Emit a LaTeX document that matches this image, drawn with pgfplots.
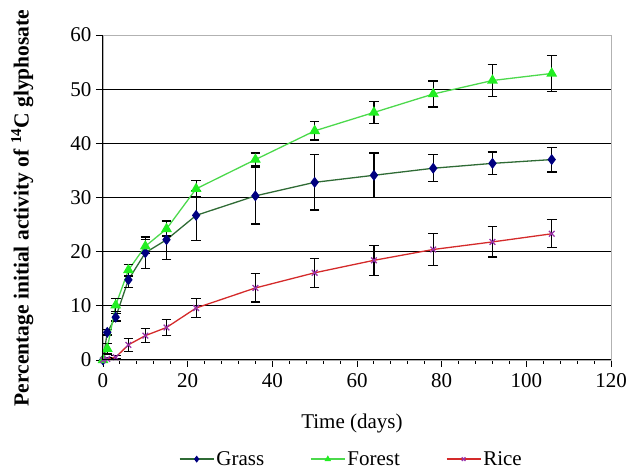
\documentclass[border=0pt]{standalone}
\usepackage{fontspec}
\setmainfont{Liberation Serif}
\usepackage{pgfplots}
\usepackage{pgfplotstable}
\pgfplotsset{compat=1.18}

\definecolor{grassline}{HTML}{2F6B35}
\definecolor{grassmark}{HTML}{000080}
\definecolor{forestline}{HTML}{4CD94C}
\definecolor{forestmark}{HTML}{22EE22}
\definecolor{riceline}{HTML}{D42A2A}
\definecolor{ricemark}{HTML}{9933AA}

% time (days), mean, standard error
\pgfplotstableread{
t    y     e
0    0.0   0.0
1    5.1   0.5
3    7.9   0.7
6    14.8  1.4
10   19.8  2.9
15   22.2  3.6
22   26.7  4.6
36   30.3  5.2
50   32.8  5.1
64   34.1  4.1
78   35.4  2.5
92   36.3  2.1
106  37.0  2.3
}\grass
\pgfplotstableread{
t    y     e
0    0.0   0.0
1    2.1   1.0
3    10.1  1.2
6    16.6  1.1
10   21.0  1.3
15   24.2  1.3
22   31.6  1.5
36   37.0  1.2
50   42.3  1.7
64   45.7  2.0
78   49.1  2.4
92   51.6  3.0
106  52.9  3.3
}\forest
\pgfplotstableread{
t    y     e
0    0.0   0.0
1    0.2   0.2
3    0.5   0.3
6    2.8   1.2
10   4.5   1.3
15   6.0   1.5
22   9.6   1.7
36   13.3  2.6
50   16.1  2.7
64   18.4  2.8
78   20.4  3.0
92   21.8  2.8
106  23.3  2.6
}\rice

\begin{document}
\begin{tikzpicture}
\begin{axis}[
  name=main,
  scale only axis,
  width=508pt, height=325pt,
  xmin=0, xmax=120, ymin=0, ymax=60,
  xtick={0,20,...,120}, ytick={0,10,...,60},
  minor x tick num=4,
  tick pos=left,
  tick align=outside,
  major tick length=7pt, minor tick length=4pt,
  tick style={black, line width=0.9pt},
  axis line style={draw=gray!60, line width=0.9pt},
  extra y ticks={10,20,30,40,50},
  extra y tick labels={},
  extra y tick style={ymajorgrids=true, major tick length=0pt},
  major grid style={black, line width=1pt},
  ticklabel style={font=\fontsize{21}{25}\selectfont},
  /pgf/number format/assume math mode=true,
  yticklabel style={xshift=-1pt},
  xticklabel style={yshift=-3.5pt},
  xlabel={Time (days)},
  xlabel style={at={(axis description cs:0.49,-0.196)}, anchor=center,
                font=\fontsize{21}{25}\selectfont},
  ylabel={\textbf{Percentage initial activity of \textsuperscript{14}C glyphosate}},
  ylabel style={at={(axis description cs:-0.159,0.468)}, anchor=center,
                font=\fontsize{21.5}{25}\selectfont},
  error bars/y dir=both, error bars/y explicit,
  error bars/error bar style={black, line width=1.2pt},
  error bars/error mark options={rotate=90, black, mark size=4.8pt, line width=1.2pt},
  legend columns=3,
  legend style={at={(axis description cs:0.489,-0.305)}, anchor=center,
    draw=none, fill=none, font=\fontsize{21}{25}\selectfont,
    /tikz/every even column/.append style={column sep=44pt}},
  legend image code/.code={
    \draw[mark repeat=2, mark phase=2, mark size=2.5pt]
      plot coordinates {(0pt,0pt) (17pt,0pt) (34pt,0pt)};},
  after end axis/.append code={
    \draw[black, line width=1pt] (rel axis cs:0,1) -- (rel axis cs:0,0) -- (rel axis cs:1,0);
  },
]
\addplot[grassline, line width=1.3pt, mark=diamond*, mark size=4.5pt,
  mark options={draw=grassmark, fill=grassmark}]
  table[x=t, y=y, y error=e] {\grass};
\addlegendentry{Grass}
\addplot[forestline, line width=1.3pt, mark=triangle*, mark size=5pt,
  mark options={draw=forestmark, fill=forestmark}]
  table[x=t, y=y, y error=e] {\forest};
\addlegendentry{Forest}
\addplot[riceline, line width=1.3pt, mark=x, mark size=4pt,
  mark options={draw=ricemark, line width=1.3pt}]
  table[x=t, y=y, y error=e] {\rice};
\addlegendentry{Rice}
\end{axis}
\pgfresetboundingbox
\path ([shift={(-103pt,-109pt)}]main.south west) rectangle ([shift={(17pt,35pt)}]main.north east);
\end{tikzpicture}
\end{document}
